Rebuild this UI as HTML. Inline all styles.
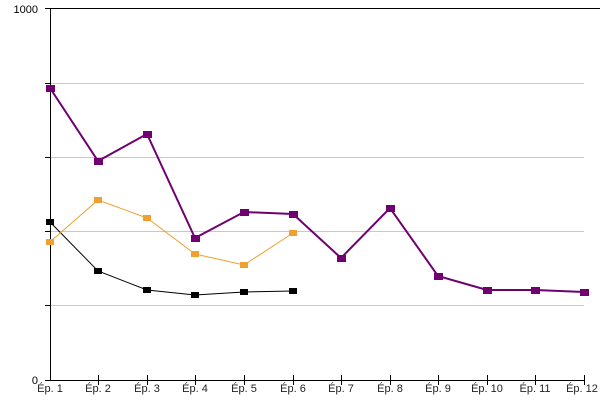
<!DOCTYPE html>
<html><head><style>body{margin:0;background:#fff}svg{display:block}</style></head><body>
<svg width="600" height="400" xmlns="http://www.w3.org/2000/svg" font-family="Liberation Sans, sans-serif" font-size="11">
<g stroke="#c8c8c8" stroke-width="1">
<line x1="50" y1="83.5" x2="584" y2="83.5"/><line x1="50" y1="157.5" x2="584" y2="157.5"/><line x1="50" y1="231.5" x2="584" y2="231.5"/><line x1="50" y1="305.5" x2="584" y2="305.5"/>
</g>
<g stroke="#000" stroke-width="1">
<line x1="45" y1="8.5" x2="600" y2="8.5"/>
<line x1="50.5" y1="8" x2="50.5" y2="380"/>
<line x1="45" y1="380.5" x2="585" y2="380.5"/>
<line x1="45" y1="83.5" x2="50" y2="83.5"/><line x1="45" y1="157.5" x2="50" y2="157.5"/><line x1="45" y1="231.5" x2="50" y2="231.5"/><line x1="45" y1="305.5" x2="50" y2="305.5"/>
<path d="M98.5 375v10M147.5 375v10M195.5 375v10M244.5 375v10M293.5 375v10M341.5 375v10M390.5 375v10M438.5 375v10M487.5 375v10M535.5 375v10M584.5 375v10"/>
</g>
<text x="38" y="13" text-anchor="end">1000</text>
<text x="38" y="384" text-anchor="end">0</text>
<g text-anchor="middle" fill="#222">
<text x="50" y="392">Ép. 1</text><text x="98" y="392">Ép. 2</text><text x="147" y="392">Ép. 3</text><text x="195" y="392">Ép. 4</text><text x="244" y="392">Ép. 5</text><text x="293" y="392">Ép. 6</text><text x="341" y="392">Ép. 7</text><text x="390" y="392">Ép. 8</text><text x="438" y="392">Ép. 9</text><text x="487" y="392">Ép. 10</text><text x="535" y="392">Ép. 11</text><text x="582" y="392">Ép. 12</text>
</g>
<polyline fill="none" stroke="#000" stroke-width="1" points="50,222 98,271 147,290 195,295 244,292 293,291"/>
<g fill="#000"><rect x="46" y="219" width="8" height="6"/><rect x="94" y="268" width="8" height="6"/><rect x="143" y="287" width="8" height="6"/><rect x="191" y="292" width="8" height="6"/><rect x="240" y="289" width="8" height="6"/><rect x="289" y="288" width="8" height="6"/></g>
<polyline fill="none" stroke="#f0a030" stroke-width="1" points="50,242 98,200 147,218 195,254 244,265 293,233"/>
<g fill="#f0a030"><rect x="46" y="239" width="8" height="6"/><rect x="94" y="197" width="8" height="6"/><rect x="143" y="215" width="8" height="6"/><rect x="191" y="251" width="8" height="6"/><rect x="240" y="262" width="8" height="6"/><rect x="289" y="230" width="8" height="6"/></g>
<polyline fill="none" stroke="#700070" stroke-width="2" points="50,88 98,161 147,134 195,238 244,212 293,214 341,258 390,208 438,276 487,290 535,290 584,292"/>
<g fill="#700070"><rect x="46" y="85" width="9" height="7"/><rect x="94" y="158" width="9" height="7"/><rect x="143" y="131" width="9" height="7"/><rect x="191" y="235" width="9" height="7"/><rect x="240" y="209" width="9" height="7"/><rect x="289" y="211" width="9" height="7"/><rect x="337" y="255" width="9" height="7"/><rect x="386" y="205" width="9" height="7"/><rect x="434" y="273" width="9" height="7"/><rect x="483" y="287" width="9" height="7"/><rect x="531" y="287" width="9" height="7"/><rect x="580" y="289" width="9" height="7"/></g>
</svg>
</body></html>
